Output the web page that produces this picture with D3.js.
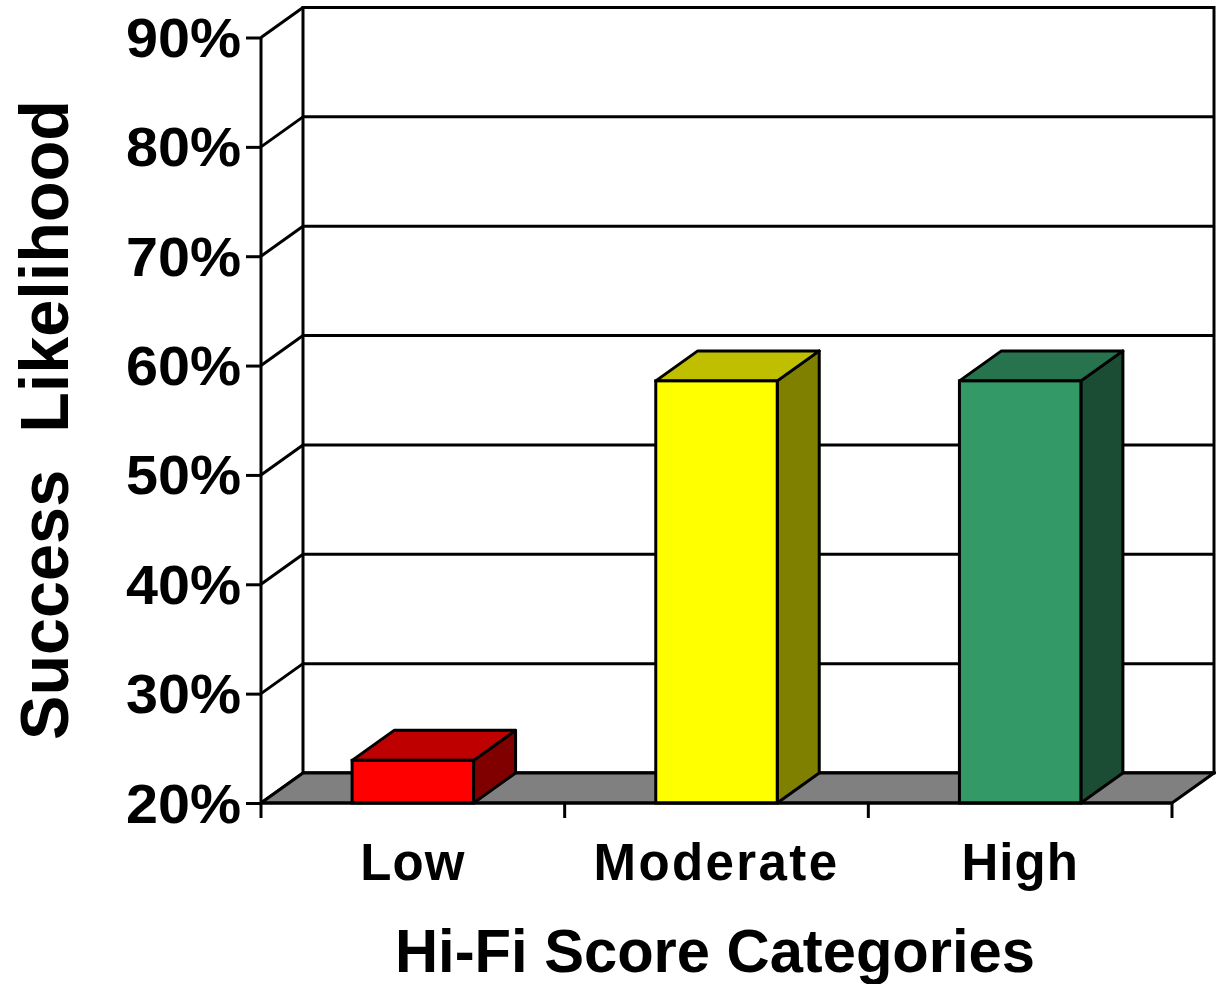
<!DOCTYPE html>
<html>
<head>
<meta charset="utf-8">
<script src="https://cdn.jsdelivr.net/npm/d3@7/dist/d3.min.js"></script>
<style>
  html, body { margin: 0; padding: 0; background: #fff; }
  svg { display: block; }
  text { font-family: "Liberation Sans", Arial, sans-serif; font-weight: bold; fill: #000; }
</style>
</head>
<body>
<svg id="chart" width="1216" height="984"></svg>
<script>
// ---- data ----
const categories = ["Low", "Moderate", "High"];
const values = [0.239, 0.586, 0.586];
const yTicks = [0.2, 0.3, 0.4, 0.5, 0.6, 0.7, 0.8, 0.9];
const xTitle = "Hi-Fi Score Categories";
const yTitle = "Success\u00A0\u00A0Likelihood";

// ---- style ----
const frontColors = ["#FF0000", "#FFFF00", "#339966"];

const svg = d3.select("#chart");

const pLeft = 261, pRight = 1172, pBottom = 803, pTop = 37.5;
const dx = 42, dy = -30;
const sw = 3;

const y = d3.scaleLinear().domain([0.2, 0.9]).range([pBottom, pTop]);
const x = d3.scaleBand().domain(categories).range([pLeft, pRight])
  .paddingInner(0.6).paddingOuter(0.3);

function shade(c, k) {
  const r = d3.rgb(c);
  return d3.rgb(Math.round(r.r * k), Math.round(r.g * k), Math.round(r.b * k)).formatHex();
}
const pts = arr => arr.map(p => p.join(",")).join(" ");

const g = svg.append("g");

// back wall
g.append("rect")
  .attr("x", pLeft + dx).attr("y", y(0.9) + dy)
  .attr("width", pRight - pLeft).attr("height", y(0.2) - y(0.9))
  .attr("fill", "#fff").attr("stroke", "#000").attr("stroke-width", sw);

// back wall gridlines
g.selectAll(".grid").data(yTicks).join("line")
  .attr("x1", pLeft + dx).attr("x2", pRight + dx)
  .attr("y1", d => y(d) + dy).attr("y2", d => y(d) + dy)
  .attr("stroke", "#000").attr("stroke-width", sw);

// side wall diagonals
g.selectAll(".diag").data(yTicks).join("line")
  .attr("x1", pLeft).attr("x2", pLeft + dx)
  .attr("y1", d => y(d)).attr("y2", d => y(d) + dy)
  .attr("stroke", "#000").attr("stroke-width", sw);

// floor
g.append("polygon")
  .attr("points", pts([[pLeft, pBottom], [pRight, pBottom], [pRight + dx, pBottom + dy], [pLeft + dx, pBottom + dy]]))
  .attr("fill", "#808080").attr("stroke", "#000").attr("stroke-width", sw);

// bars
const bars = g.selectAll(".bar").data(categories.map((c, i) => ({ c, v: values[i], col: frontColors[i] })))
  .join("g");

bars.append("polygon") // side
  .attr("points", d => {
    const x0 = x(d.c) + x.bandwidth(), yt = y(d.v);
    return pts([[x0, yt], [x0 + dx, yt + dy], [x0 + dx, pBottom + dy], [x0, pBottom]]);
  })
  .attr("fill", d => shade(d.col, 0.5)).attr("stroke", "#000").attr("stroke-width", sw).attr("stroke-linejoin", "round");

bars.append("polygon") // top
  .attr("points", d => {
    const x0 = x(d.c), x1 = x0 + x.bandwidth(), yt = y(d.v);
    return pts([[x0, yt], [x0 + dx, yt + dy], [x1 + dx, yt + dy], [x1, yt]]);
  })
  .attr("fill", d => shade(d.col, 0.75)).attr("stroke", "#000").attr("stroke-width", sw).attr("stroke-linejoin", "round");

bars.append("rect") // front
  .attr("x", d => x(d.c)).attr("y", d => y(d.v))
  .attr("width", x.bandwidth()).attr("height", d => pBottom - y(d.v))
  .attr("fill", d => d.col).attr("stroke", "#000").attr("stroke-width", sw);

// front y axis
const yAxis = d3.axisLeft(y).tickValues(yTicks).tickFormat(d3.format(".0%")).tickSize(15).tickPadding(8);
const ya = g.append("g").attr("transform", `translate(${pLeft},0)`).call(yAxis);
ya.select(".domain").attr("stroke", "#000").attr("stroke-width", sw).attr("d", `M0,${pTop}V${pBottom}`);
ya.selectAll(".tick line").attr("stroke", "#000").attr("stroke-width", sw);
ya.selectAll(".tick text")
  .attr("font-size", 56).attr("font-family", "Liberation Sans, Arial, sans-serif").attr("font-weight", "bold")
  .attr("fill", "#000").attr("dy", "0.34em").attr("x", -20)
  .attr("textLength", 115).attr("lengthAdjust", "spacingAndGlyphs");

// front x axis ticks at band boundaries
const bounds = categories.map(c => x(c) - x.step() * x.paddingInner() / 2);
bounds[0] = pLeft;
bounds.push(pRight);
g.selectAll(".xt").data(bounds).join("line")
  .attr("x1", d => d).attr("x2", d => d)
  .attr("y1", pBottom).attr("y2", pBottom + 15)
  .attr("stroke", "#000").attr("stroke-width", sw);
g.append("line").attr("x1", pLeft).attr("x2", pRight).attr("y1", pBottom).attr("y2", pBottom)
  .attr("stroke", "#000").attr("stroke-width", sw);

// category labels
g.selectAll(".cl").data(categories).join("text")
  .attr("x", d => x(d) + x.bandwidth() / 2)
  .attr("y", 880)
  .attr("text-anchor", "middle")
  .attr("font-size", 51)
  .attr("letter-spacing", d => d === "Moderate" ? 2.4 : 1)
  .text(d => d);

// axis titles
svg.append("text")
  .attr("x", 715).attr("y", 972)
  .attr("text-anchor", "middle").attr("font-size", 62)
  .attr("textLength", 640).attr("lengthAdjust", "spacingAndGlyphs")
  .text(xTitle);

svg.append("text")
  .attr("transform", "translate(68,420) rotate(-90)")
  .attr("text-anchor", "middle").attr("font-size", 68)
  .attr("textLength", 640).attr("lengthAdjust", "spacingAndGlyphs")
  .text(yTitle);
</script>
</body>
</html>
